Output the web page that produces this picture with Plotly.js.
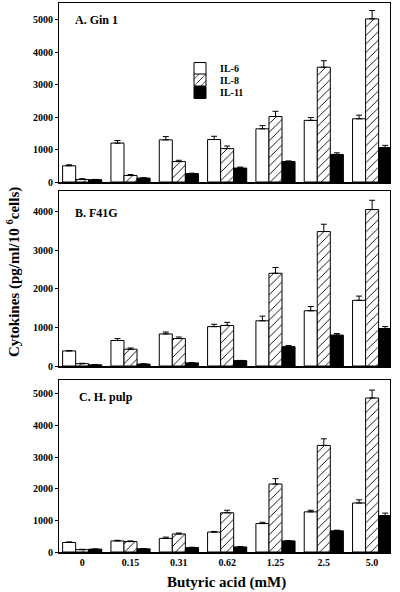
<!DOCTYPE html>
<html>
<head>
<meta charset="utf-8">
<script src="https://cdn.plot.ly/plotly-3.0.1.min.js"></script>
<style>html,body{margin:0;padding:0;background:#fff;}#chart{width:400px;height:592px;}</style>
</head>
<body>
<div id="chart"></div>
<script>
const conc = ["0","0.15","0.31","0.62","1.25","2.5","5.0"];
const seriesNames = ["IL-6","IL-8","IL-11"];
const panelLabels = ["A. Gin 1","B. F41G","C. H. pulp"];
const yTicks = [0,1000,2000,3000,4000,5000];

// Panel A: Gin 1
const il6A = [500,1200,1300,1310,1640,1900,1950];
const il6AErr = [30,80,100,100,100,90,110];
const il8A = [80,200,630,1030,2020,3540,5030];
const il8AErr = [20,30,40,80,160,200,260];
const il11A = [70,120,260,430,630,850,1060];
const il11AErr = [10,10,10,30,20,50,70];

// Panel B: F41G
const il6B = [390,660,830,1020,1170,1430,1700];
const il6BErr = [10,50,50,60,120,110,110];
const il8B = [60,435,710,1050,2400,3480,4050];
const il8BErr = [10,30,40,80,150,190,240];
const il11B = [30,50,80,140,500,800,970];
const il11BErr = [5,5,5,5,30,40,50];

// Panel C: H. pulp
const il6C = [300,350,430,630,900,1270,1550];
const il6CErr = [20,20,40,20,40,50,100];
const il8C = [75,330,570,1240,2150,3370,4870];
const il8CErr = [10,20,30,80,170,210,250];
const il11C = [90,100,140,160,350,670,1150];
const il11CErr = [5,5,10,5,10,20,80];

const FONT = "Liberation Serif, Times New Roman, serif";
const panels = [
  {vals:[il6A,il8A,il11A], errs:[il6AErr,il8AErr,il11AErr], xa:"x", ya:"y"},
  {vals:[il6B,il8B,il11B], errs:[il6BErr,il8BErr,il11BErr], xa:"x2", ya:"y2"},
  {vals:[il6C,il8C,il11C], errs:[il6CErr,il8CErr,il11CErr], xa:"x3", ya:"y3"}
];
const styles = [
  {color:"#ffffff", pattern:{shape:""}},
  {color:"#ffffff", pattern:{shape:"/", fgcolor:"#000", bgcolor:"#fff", size:6, solidity:0.15, fillmode:"replace"}},
  {color:"#000000", pattern:{shape:""}}
];
const legendIds = ["legend","legend2","legend3"];

const traces = [];
panels.forEach((p, pi) => {
  for (let s = 0; s < 3; s++) {
    traces.push({
      type:"bar", x:conc, y:p.vals[s], name:seriesNames[s],
      xaxis:p.xa, yaxis:p.ya, legend:legendIds[s], showlegend: pi===0,
      marker:{color:styles[s].color, pattern:styles[s].pattern, line:{color:"#000", width:1}},
      error_y:{type:"data", symmetric:false, array:p.errs[s], arrayminus:p.errs[s].map(()=>0),
               color:"#000", thickness:1, width:3}
    });
  }
});

const PB = 552, PT = 3, PH = 592;
const plotH = PH - PT - (PH - PB);
function dom(pxTop, pxBot){ return [(PB - pxBot)/plotH, (PB - pxTop)/plotH]; }

const xBase = {type:"category", range:[-0.48,6.37], showline:true, mirror:true, linecolor:"#000", linewidth:1.5,
  ticks:"", showgrid:false, zeroline:false, fixedrange:true,
  tickfont:{family:FONT, size:10, color:"#000", weight:"bold"}};
const yBase = {showline:true, mirror:true, linecolor:"#000", linewidth:1, ticks:"outside", ticklen:3,
  tickcolor:"#000", showgrid:false, zeroline:false, tickvals:yTicks, tickformat:"d",
  tickfont:{family:FONT, size:10, color:"#000", weight:"bold"}};

function legendAt(yc){
  return {x:(180-59)/331, y:(PB-yc)/plotH, xanchor:"left", yanchor:"middle",
    bgcolor:"rgba(0,0,0,0)", borderwidth:0,
    font:{family:FONT, size:10, color:"#000", weight:"bold"}, itemwidth:30};
}

const layout = {
  width:400, height:592,
  margin:{l:59, r:10, t:PT, b:PH-PB, pad:0},
  paper_bgcolor:"#fff", plot_bgcolor:"#fff",
  barmode:"group", bargap:0.19, bargroupgap:0,
  font:{family:FONT, color:"#000"},
  xaxis: Object.assign({}, xBase, {anchor:"y", showticklabels:false}),
  xaxis2: Object.assign({}, xBase, {anchor:"y2", showticklabels:false}),
  xaxis3: Object.assign({}, xBase, {anchor:"y3", showticklabels:true}),
  yaxis: Object.assign({}, yBase, {domain:dom(3,182), range:[0,5520], anchor:"x"}),
  yaxis2: Object.assign({}, yBase, {domain:dom(191,366), range:[0,4530], anchor:"x2"}),
  yaxis3: Object.assign({}, yBase, {domain:dom(380,552), range:[0,5440], anchor:"x3"}),
  legend: legendAt(68.5),
  legend2: legendAt(80),
  legend3: legendAt(92.5),
  showlegend:true,
  annotations:[
    {text:panelLabels[0], xref:"x domain", yref:"y domain", x:0.042, y:0.905, xanchor:"left", yanchor:"middle", showarrow:false, font:{family:FONT, size:12, weight:"bold"}},
    {text:panelLabels[1], xref:"x2 domain", yref:"y2 domain", x:0.042, y:0.874, xanchor:"left", yanchor:"middle", showarrow:false, font:{family:FONT, size:12, weight:"bold"}},
    {text:panelLabels[2], xref:"x3 domain", yref:"y3 domain", x:0.054, y:0.9, xanchor:"left", yanchor:"middle", showarrow:false, font:{family:FONT, size:12, weight:"bold"}},
    {text:"Cytokines (pg/ml/10 <sup>6</sup>cells)", xref:"paper", yref:"paper", x:(13-59)/331, y:(PB-272)/plotH, textangle:-90, xanchor:"center", yanchor:"middle", showarrow:false, font:{family:FONT, size:15, weight:"bold"}},
    {text:"Butyric acid (mM)", xref:"paper", yref:"paper", x:(226-59)/331, y:(PB-582)/plotH, xanchor:"center", yanchor:"middle", showarrow:false, font:{family:FONT, size:15, weight:"bold"}}
  ]
};

Plotly.newPlot("chart", traces, layout, {staticPlot:true, displayModeBar:false});
</script>
</body>
</html>
